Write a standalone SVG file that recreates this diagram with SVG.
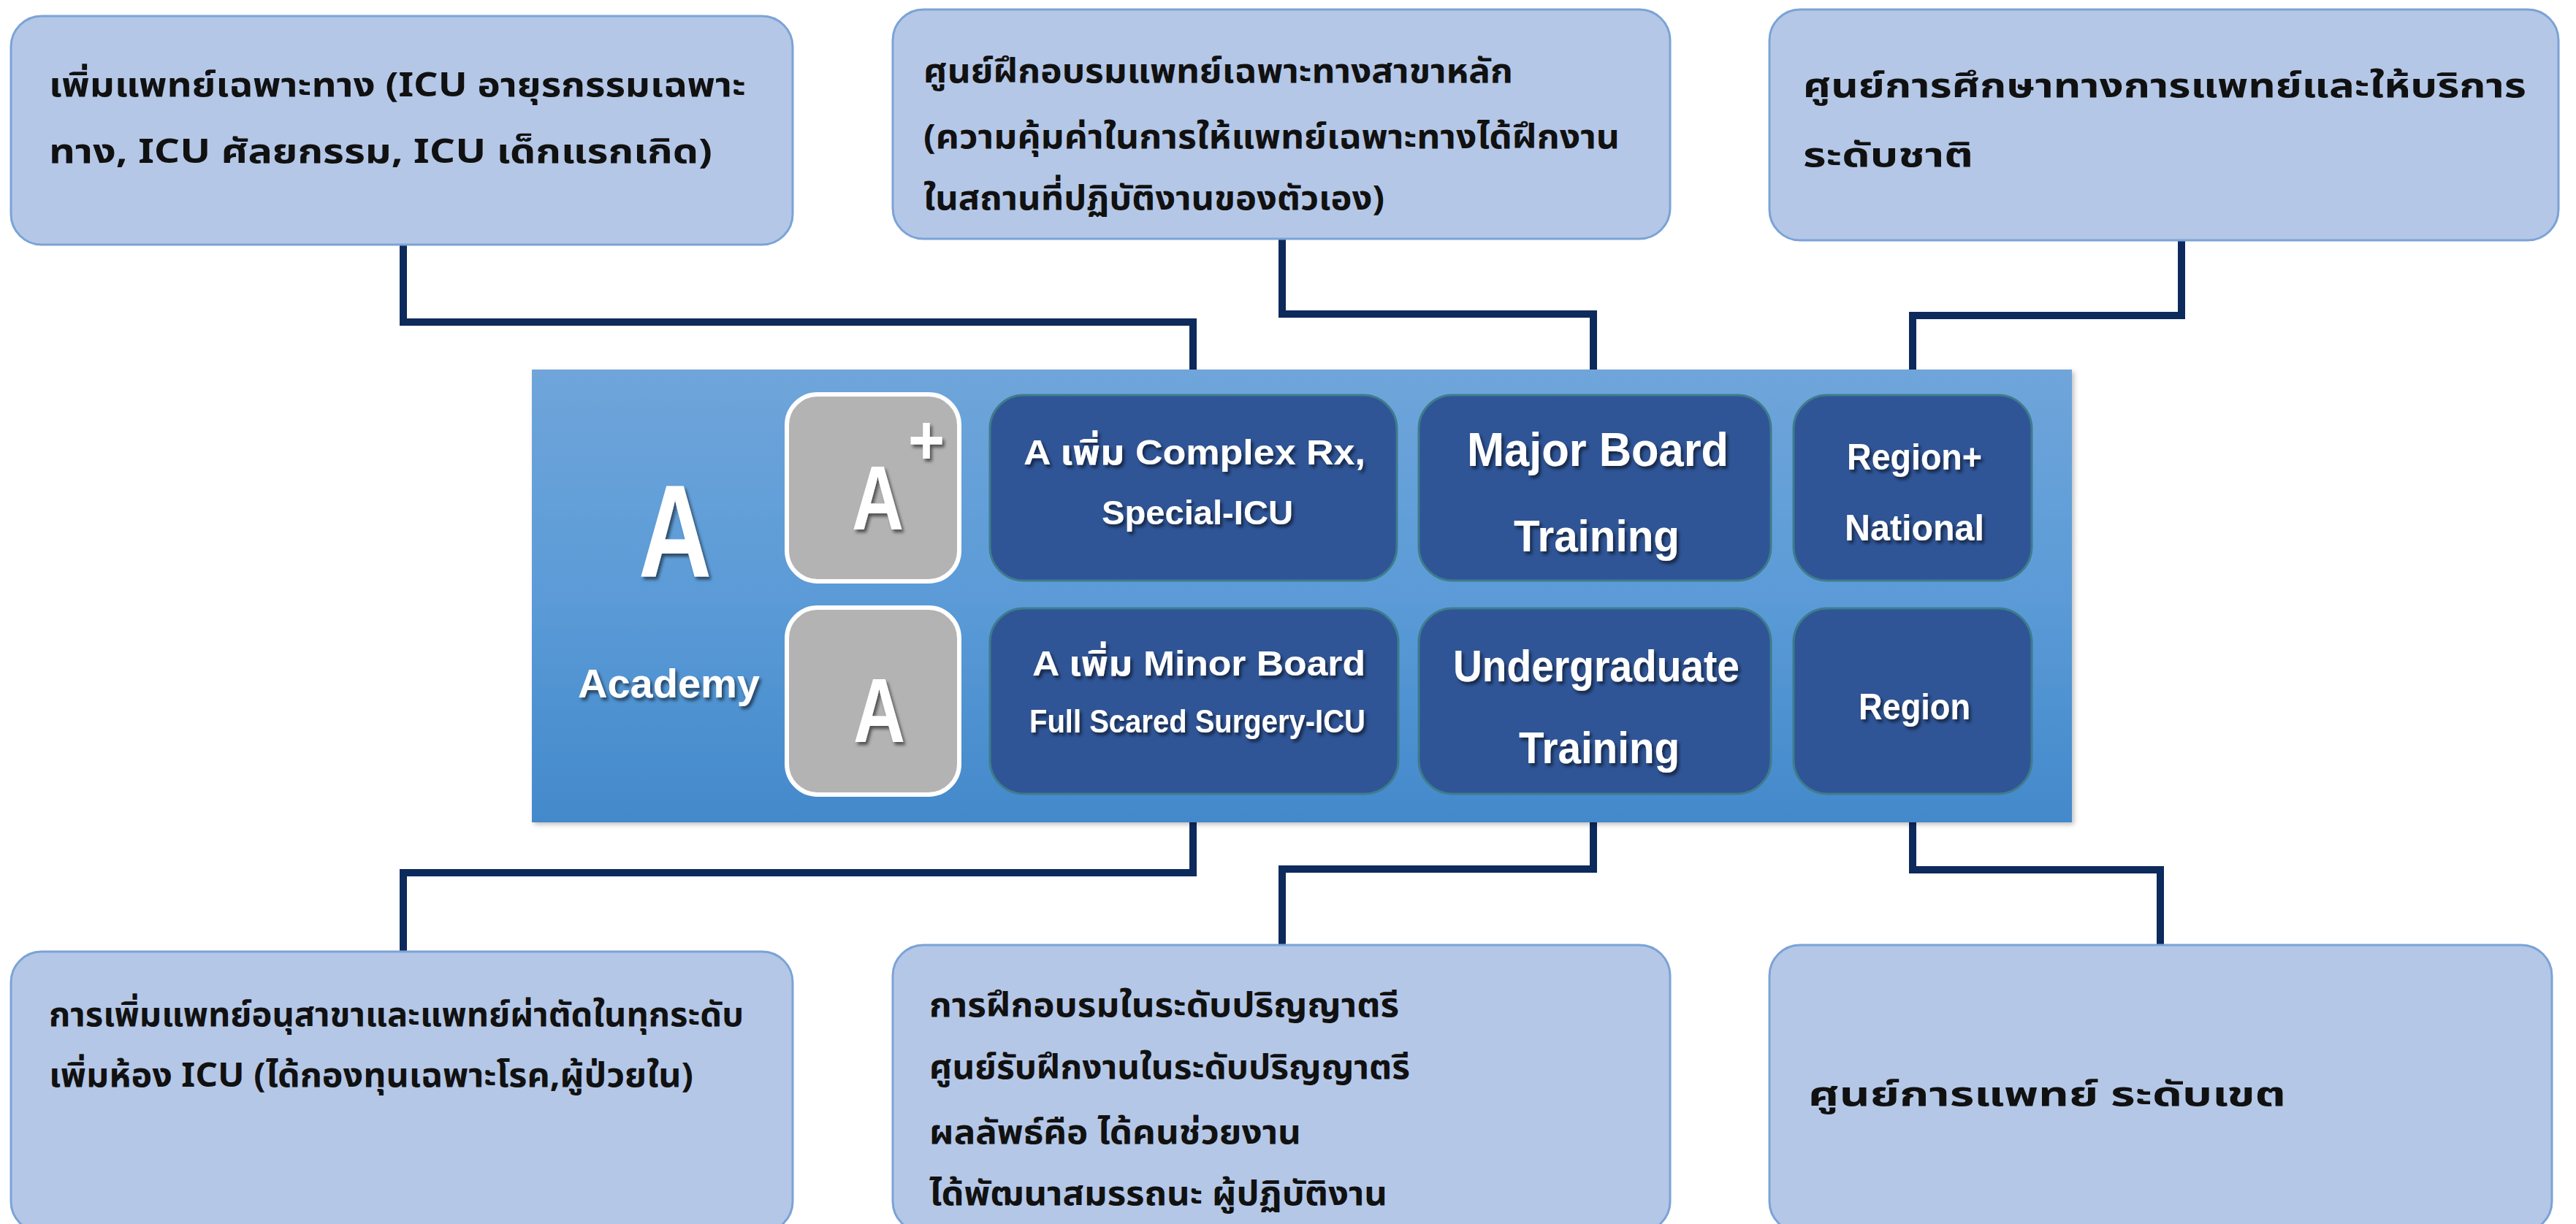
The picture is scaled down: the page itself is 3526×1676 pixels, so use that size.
<svg xmlns="http://www.w3.org/2000/svg" width="3526" height="1676" viewBox="0 0 3526 1676">
<defs>
<style>
.lb{fill:#b4c7e7;stroke:#7ba3d6;stroke-width:3}
.db{fill:#2f5597;stroke:#3e7c8c;stroke-width:3}
.gb{fill:#b3b3b3;stroke:#ffffff;stroke-width:6}
.th{font-family:"Noto Sans Thai","Noto Sans","DejaVu Sans",sans-serif;font-weight:bold;font-size:46px;fill:#111111}
.wt{font-family:"Liberation Sans Narrow","Liberation Sans","Noto Sans Thai",sans-serif;font-weight:bold;fill:#ffffff;text-anchor:start;filter:url(#sh)}
.con{fill:none;stroke:#0d2a5c;stroke-width:10;stroke-linejoin:miter}
</style>
<linearGradient id="pg" x1="0" y1="0" x2="0" y2="1">
<stop offset="0" stop-color="#6fa5da"/>
<stop offset="0.5" stop-color="#5b9bd7"/>
<stop offset="1" stop-color="#4389cb"/>
</linearGradient>
<filter id="sh" x="-10%" y="-20%" width="130%" height="150%">
<feDropShadow dx="3" dy="4" stdDeviation="2" flood-color="#000000" flood-opacity="0.55"/>
</filter>
<filter id="ps" x="-5%" y="-5%" width="110%" height="115%">
<feDropShadow dx="3" dy="3" stdDeviation="3" flood-color="#000000" flood-opacity="0.25"/>
</filter>
</defs>
<rect width="3526" height="1676" fill="#ffffff"/>

<g id="connectors">
<path class="con" d="M552 335 V441 H1633 V541"/>
<path class="con" d="M1755 327 V430 H2181 V541"/>
<path class="con" d="M2986 327 V432 H2618 V541"/>
<path class="con" d="M1633 1087 V1195 H552 V1303"/>
<path class="con" d="M2181 1087 V1190 H1755 V1294"/>
<path class="con" d="M2618 1087 V1191 H2957 V1294"/>
</g>

<g id="panel">
<rect x="728" y="506" width="2108" height="620" fill="url(#pg)" filter="url(#ps)"/>
<text class="wt" x="874" y="790" font-size="180" textLength="100" lengthAdjust="spacingAndGlyphs">A</text>
<text class="wt" x="791" y="955" font-size="56" textLength="249" lengthAdjust="spacingAndGlyphs">Academy</text>
</g>

<g id="node-aplus">
<rect class="gb" x="1077" y="540" width="236" height="256" rx="42"/>
<text class="wt" x="1166" y="725" font-size="125" textLength="71" lengthAdjust="spacingAndGlyphs">A</text>
<text class="wt" x="1243" y="636" font-size="96" textLength="50" lengthAdjust="spacingAndGlyphs" font-family="Liberation Sans, sans-serif" font-weight="normal">+</text>
</g>

<g id="node-a">
<rect class="gb" x="1077" y="832" width="236" height="256" rx="42"/>
<text class="wt" x="1168" y="1016" font-size="125" textLength="71" lengthAdjust="spacingAndGlyphs">A</text>
</g>

<g id="node-complex">
<rect class="db" x="1355" y="541" width="557" height="254" rx="46"/>
<text class="wt" x="1401" y="636" font-size="48" textLength="468" lengthAdjust="spacingAndGlyphs">A เพิ่ม Complex Rx,</text>
<text class="wt" x="1508" y="718" font-size="47" textLength="262" lengthAdjust="spacingAndGlyphs">Special-ICU</text>
</g>

<g id="node-minor">
<rect class="db" x="1355" y="833" width="559" height="254" rx="46"/>
<text class="wt" x="1413" y="925" font-size="48" textLength="456" lengthAdjust="spacingAndGlyphs">A เพิ่ม Minor Board</text>
<text class="wt" x="1409" y="1003" font-size="45" textLength="460" lengthAdjust="spacingAndGlyphs">Full Scared Surgery-ICU</text>
</g>

<g id="node-major">
<rect class="db" x="1942" y="541" width="482" height="254" rx="46"/>
<text class="wt" x="2008" y="638" font-size="64" textLength="358" lengthAdjust="spacingAndGlyphs">Major Board</text>
<text class="wt" x="2072" y="755" font-size="62" textLength="227" lengthAdjust="spacingAndGlyphs">Training</text>
</g>

<g id="node-undergrad">
<rect class="db" x="1942" y="833" width="482" height="254" rx="46"/>
<text class="wt" x="1989" y="933" font-size="62" textLength="392" lengthAdjust="spacingAndGlyphs">Undergraduate</text>
<text class="wt" x="2079" y="1045" font-size="62" textLength="220" lengthAdjust="spacingAndGlyphs">Training</text>
</g>

<g id="node-regionplus">
<rect class="db" x="2455" y="541" width="326" height="254" rx="46"/>
<text class="wt" x="2528" y="643" font-size="50" textLength="185" lengthAdjust="spacingAndGlyphs">Region+</text>
<text class="wt" x="2525" y="740" font-size="50" textLength="191" lengthAdjust="spacingAndGlyphs">National</text>
</g>

<g id="node-region">
<rect class="db" x="2455" y="833" width="326" height="254" rx="46"/>
<text class="wt" x="2544" y="985" font-size="50" textLength="153" lengthAdjust="spacingAndGlyphs">Region</text>
</g>

<g id="node-top-left">
<rect class="lb" x="15" y="22" width="1070" height="313" rx="42"/>
<text class="th" x="67" y="132" textLength="954" lengthAdjust="spacingAndGlyphs">เพิ่มแพทย์เฉพาะทาง (ICU อายุรกรรมเฉพาะ</text>
<text class="th" x="67" y="223" textLength="908" lengthAdjust="spacingAndGlyphs">ทาง, ICU ศัลยกรรม, ICU เด็กแรกเกิด)</text>
</g>

<g id="node-top-mid">
<rect class="lb" x="1222" y="13" width="1064" height="314" rx="42"/>
<text class="th" x="1264" y="113" textLength="807" lengthAdjust="spacingAndGlyphs">ศูนย์ฝึกอบรมแพทย์เฉพาะทางสาขาหลัก</text>
<text class="th" x="1264" y="203" textLength="953" lengthAdjust="spacingAndGlyphs">(ความคุ้มค่าในการให้แพทย์เฉพาะทางได้ฝึกงาน</text>
<text class="th" x="1264" y="287" textLength="631" lengthAdjust="spacingAndGlyphs">ในสถานที่ปฏิบัติงานของตัวเอง)</text>
</g>

<g id="node-top-right">
<rect class="lb" x="2422" y="13" width="1080" height="316" rx="42"/>
<text class="th" x="2468" y="133" font-size="50" textLength="990" lengthAdjust="spacingAndGlyphs">ศูนย์การศึกษาทางการแพทย์และให้บริการ</text>
<text class="th" x="2468" y="228" font-size="50" textLength="233" lengthAdjust="spacingAndGlyphs">ระดับชาติ</text>
</g>

<g id="node-bottom-left">
<rect class="lb" x="15" y="1303" width="1070" height="384" rx="42"/>
<text class="th" x="67" y="1405" textLength="951" lengthAdjust="spacingAndGlyphs">การเพิ่มแพทย์อนุสาขาและแพทย์ผ่าตัดในทุกระดับ</text>
<text class="th" x="67" y="1488" textLength="882" lengthAdjust="spacingAndGlyphs">เพิ่มห้อง ICU (ได้กองทุนเฉพาะโรค,ผู้ป่วยใน)</text>
</g>

<g id="node-bottom-mid">
<rect class="lb" x="1222" y="1294" width="1064" height="393" rx="42"/>
<text class="th" x="1272" y="1392" textLength="643" lengthAdjust="spacingAndGlyphs">การฝึกอบรมในระดับปริญญาตรี</text>
<text class="th" x="1272" y="1477" textLength="658" lengthAdjust="spacingAndGlyphs">ศูนย์รับฝึกงานในระดับปริญญาตรี</text>
<text class="th" x="1272" y="1566" textLength="509" lengthAdjust="spacingAndGlyphs">ผลลัพธ์คือ ได้คนช่วยงาน</text>
<text class="th" x="1272" y="1650" textLength="627" lengthAdjust="spacingAndGlyphs">ได้พัฒนาสมรรถนะ ผู้ปฏิบัติงาน</text>
</g>

<g id="node-bottom-right">
<rect class="lb" x="2422" y="1294" width="1071" height="393" rx="42"/>
<text class="th" x="2475" y="1514" font-size="54" textLength="654" lengthAdjust="spacingAndGlyphs">ศูนย์การแพทย์ ระดับเขต</text>
</g>
</svg>
